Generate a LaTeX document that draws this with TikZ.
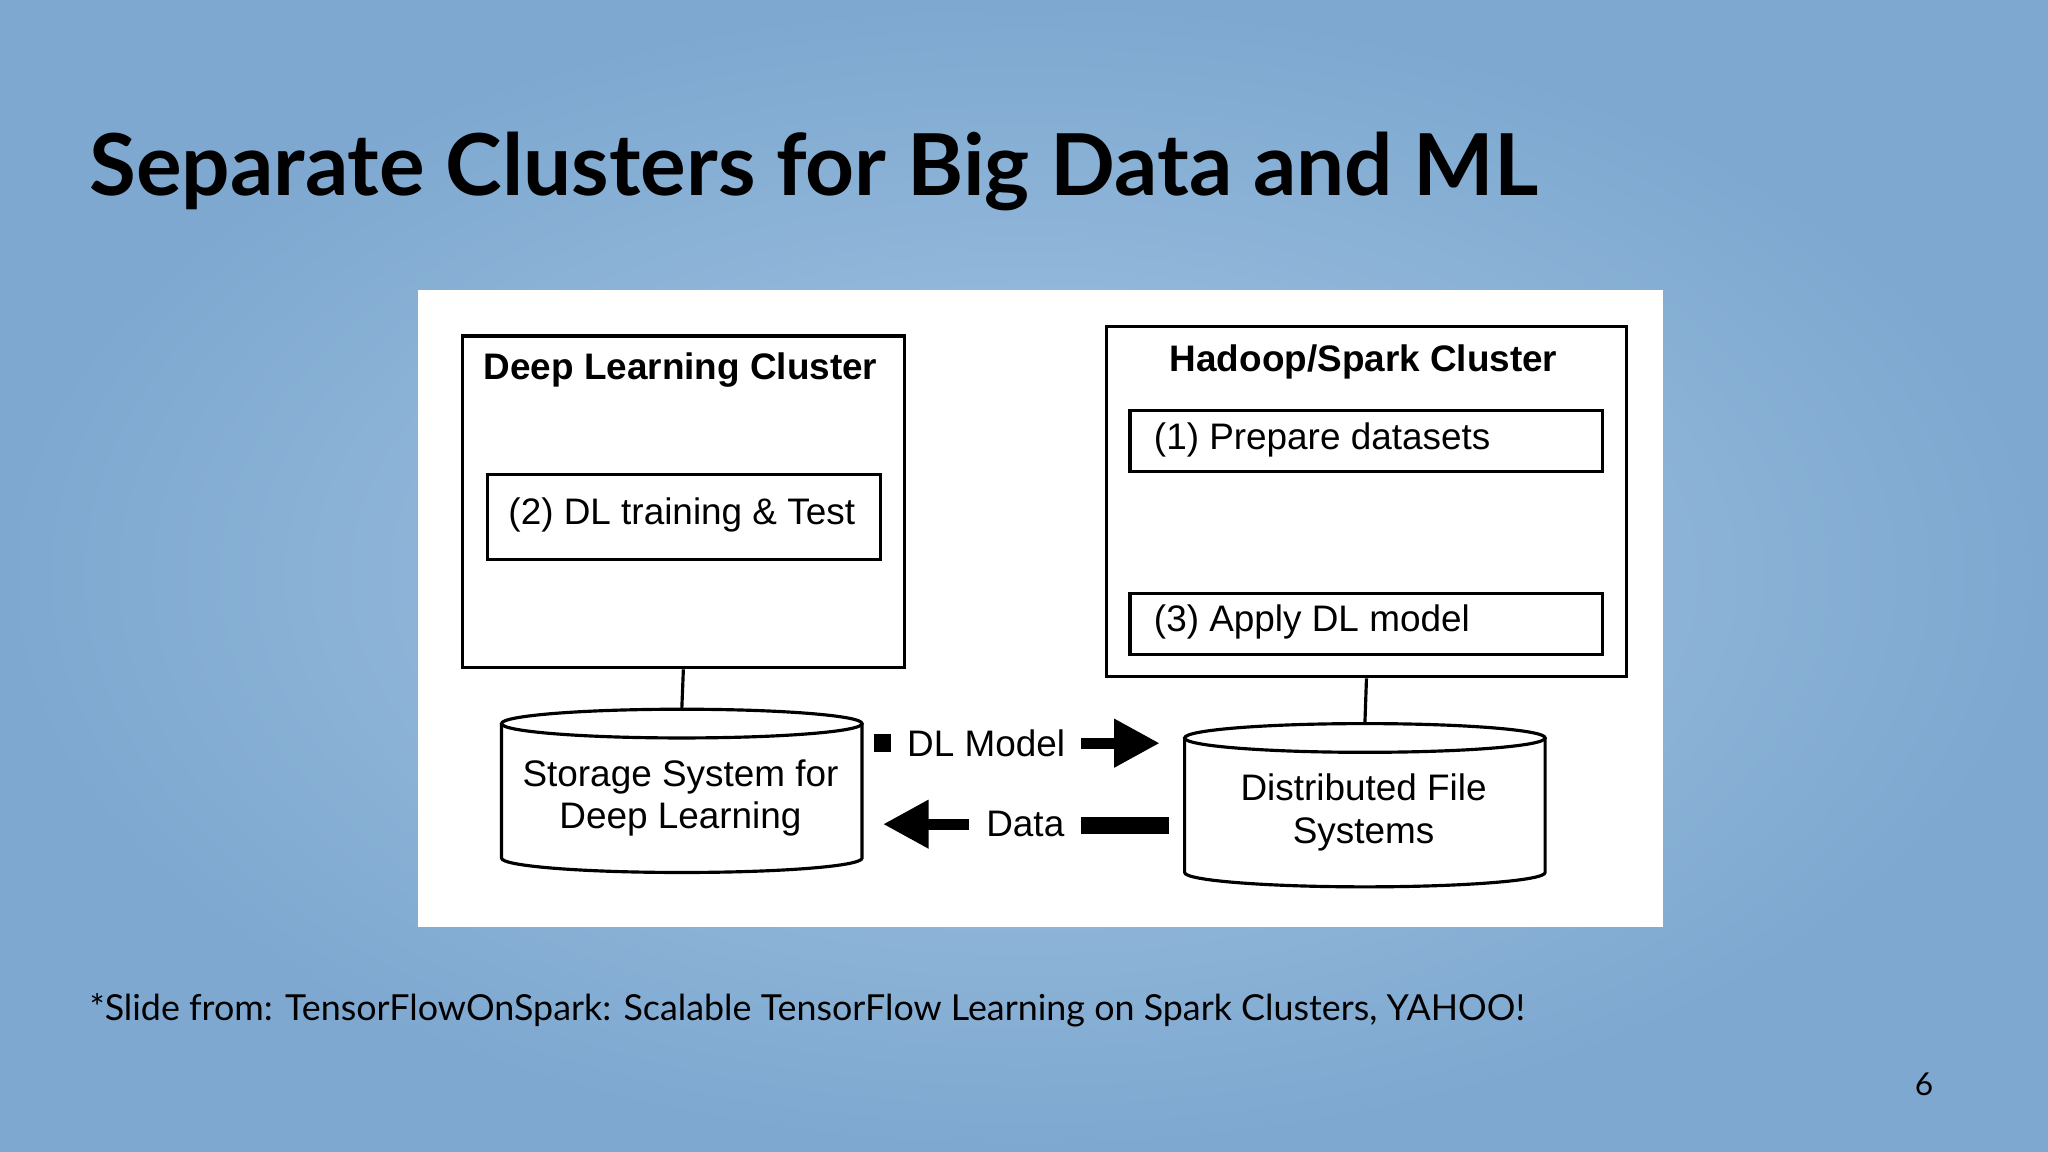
\documentclass[tikz,border=0pt]{standalone}
\usepackage{fontspec}
\setmainfont{Liberation Sans}
\newfontfamily\slidefont{Lato}
\usetikzlibrary{arrows.meta}
\definecolor{slidebg}{RGB}{141,184,220}
\definecolor{slidebgedge}{RGB}{126,168,208}
\tikzset{
  px/.style={x=0.013061cm,y=-0.013061cm},
  box/.style={draw,line width=0.9pt,inner sep=0pt,anchor=north west},
  lbl/.style={font=\fontsize{10.5}{12}\selectfont},
  ttl/.style={font=\bfseries\fontsize{10.5}{12}\selectfont},
  fat/.style={line width=3.2pt,-{Triangle[length=13pt,width=13pt]}},
}
\begin{document}
\begin{tikzpicture}[px]
\useasboundingbox (0,0) rectangle (1568,882);
\shade[inner color=slidebg!80!white,outer color=slidebgedge] (0,0) rectangle (1568,882);
\node[anchor=base west,inner sep=0pt,font=\slidefont\bfseries\fontsize{24.3}{29}\selectfont] (title) at (68,150) {Separate Clusters for Big Data and ML};
\fill[white] (320,222) rectangle (1273,710);
% left cluster
\node[box,minimum width=338*0.013061cm,minimum height=254*0.013061cm] (dl) at (353,256) {};
\node[ttl] (dlt) at (521,283) {Deep Learning Cluster};
\node[box,minimum width=301*0.013061cm,minimum height=65*0.013061cm,lbl] (dlb) at (372,362) {};
\node[lbl] (dlbt) at (522,394) {(2) DL training \& Test};
% right cluster
\node[box,minimum width=398*0.013061cm,minimum height=268*0.013061cm] (hs) at (846,249) {};
\node[ttl] (hst) at (1044,277) {Hadoop/Spark Cluster};
\node[box,minimum width=362*0.013061cm,minimum height=47*0.013061cm] (p1) at (864,313) {};
\node[lbl,anchor=west] (p1t) at (874,337) {(1) Prepare datasets};
\node[box,minimum width=362*0.013061cm,minimum height=47*0.013061cm] (p3) at (864,453) {};
\node[lbl,anchor=west] (p3t) at (874,476) {(3) Apply DL model};
% cylinders
\draw[line width=0.9pt,fill=white] (384,554) -- (384,657) arc[start angle=180,end angle=0,x radius=138,y radius=11] -- (660,554);
\draw[line width=0.9pt] (522,554) ellipse[x radius=138,y radius=11];
\draw[line width=0.9pt,fill=white] (907,565) -- (907,668) arc[start angle=180,end angle=0,x radius=138,y radius=11] -- (1183,565);
\draw[line width=0.9pt] (1045,565) ellipse[x radius=138,y radius=11];
\node[lbl,align=center] (st) at (521,611) {Storage System for\\Deep Learning};
\node[lbl,align=center] (dfs) at (1044,622) {Distributed File\\Systems};
\coordinate (sttop) at (522,543);
\coordinate (dfstop) at (1045,554);
\draw[line width=0.9pt] (dl.south) -- (sttop);
\draw[line width=0.9pt] (hs.south) -- (dfstop);
% transfers
\node[lbl] (dlm) at (755,569) {DL Model};
\node[lbl] (data) at (785,631) {Data};
\coordinate (a1) at (669,569);
\coordinate (a2) at (682,569);
\coordinate (b1) at (828,569);
\coordinate (b2) at (888,569);
\coordinate (c1) at (895,632);
\coordinate (c2) at (828,632);
\coordinate (d1) at (742,631);
\coordinate (d2) at (676,631);
\draw[line width=5pt] (a1) -- (a2);
\draw[fat] (b1) -- (b2);
\draw[line width=5pt] (c1) -- (c2);
\draw[fat] (d1) -- (d2);
\node[anchor=base west,inner sep=0pt,font=\slidefont\fontsize{10.2}{12}\selectfont] (foot) at (68,781) {*Slide from: TensorFlowOnSpark: Scalable TensorFlow Learning on Spark Clusters, YAHOO!};
\node[anchor=base,inner sep=0pt,font=\slidefont\fontsize{9}{11}\selectfont] (pg) at (1473,839) {6};
\end{tikzpicture}
\end{document}
